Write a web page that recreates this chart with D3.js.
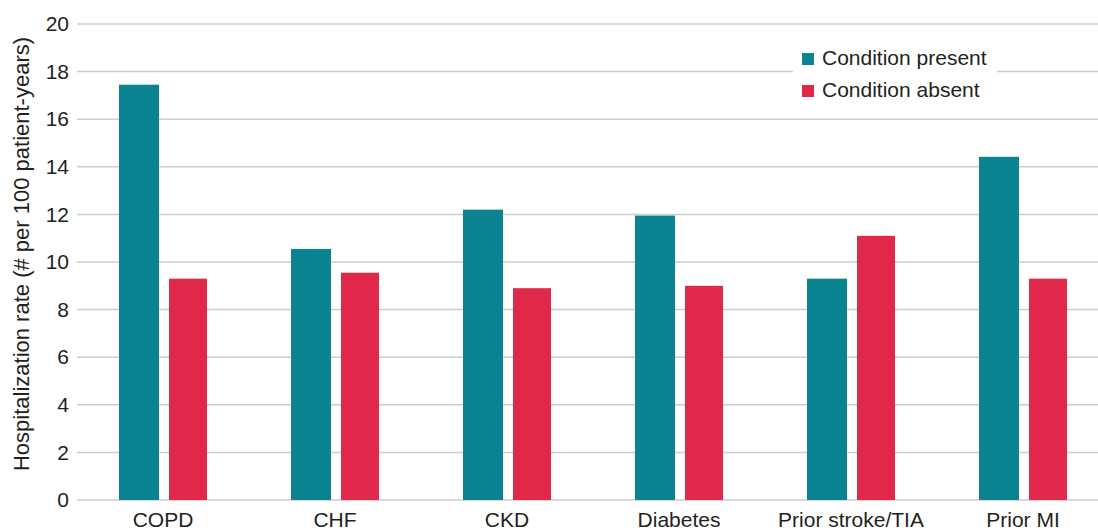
<!DOCTYPE html>
<html>

<head>
  <meta charset="utf-8">
  <title>Hospitalization rate</title>
  <script src="https://cdn.jsdelivr.net/npm/d3@7/dist/d3.min.js"></script>
</head>
<style type="text/css">
  body {
    margin: 0;
    background-color: #ffffff;
  }

  text {
    font-family: "Liberation Sans", Arial, sans-serif;
    fill: #231f20;
  }

  .grid line {
    stroke: #cccccc;
    stroke-width: 1.5;
  }
</style>

<body>
  <svg width="1098" height="530" id="mainsvg"></svg>
  <script>

    const categories = ["COPD", "CHF", "CKD", "Diabetes", "Prior stroke/TIA", "Prior MI"];
    const presentValues = [17.45, 10.55, 12.2, 11.95, 9.3, 14.42];
    const absentValues = [9.3, 9.55, 8.9, 9.0, 11.1, 9.3];
    const seriesNames = ["Condition present", "Condition absent"];
    const seriesColors = ["#0b8391", "#e0294a"];
    const yTicks = [0, 2, 4, 6, 8, 10, 12, 14, 16, 18, 20];

    const svg = d3.select('#mainsvg');
    const margin = { top: 24, bottom: 500, left: 77, right: 1109 };

    const xScale = d3.scaleBand()
      .domain(categories)
      .range([margin.left, margin.right])
      .padding(0);
    const yScale = d3.scaleLinear()
      .domain([0, 20])
      .range([margin.bottom, margin.top]);

    // gridlines
    svg.append('g')
      .attr('class', 'grid')
      .selectAll('line')
      .data(yTicks)
      .enter()
      .append('line')
      .attr('x1', margin.left)
      .attr('x2', 1098)
      .attr('y1', d => yScale(d))
      .attr('y2', d => yScale(d));

    // y axis labels
    const yAxis = d3.axisLeft(yScale).tickValues(yTicks).tickSize(0).tickPadding(8);
    const yAxisGroup = svg.append('g')
      .attr('transform', `translate(${margin.left}, 0)`)
      .call(yAxis);
    yAxisGroup.select('.domain').remove();
    yAxisGroup.selectAll('text')
      .style('font-size', '21px')
      .attr('fill', '#231f20');

    // x axis labels
    const xAxis = d3.axisBottom(xScale).tickSize(0).tickPadding(12);
    const xAxisGroup = svg.append('g')
      .attr('transform', `translate(0, ${margin.bottom})`)
      .call(xAxis);
    xAxisGroup.select('.domain').remove();
    xAxisGroup.selectAll('text')
      .style('font-size', '21px')
      .attr('fill', '#231f20');

    // bars
    const rows = categories.map((c, i) => ({ cat: c, present: presentValues[i], absent: absentValues[i] }));
    const bw = xScale.bandwidth();

    svg.append('g').selectAll('rect')
      .data(rows)
      .enter()
      .append('rect')
      .attr('x', d => xScale(d.cat) + bw / 2 - 44)
      .attr('width', 40)
      .attr('y', d => yScale(d.present))
      .attr('height', d => yScale(0) - yScale(d.present))
      .attr('fill', seriesColors[0]);

    svg.append('g').selectAll('rect')
      .data(rows)
      .enter()
      .append('rect')
      .attr('x', d => xScale(d.cat) + bw / 2 + 6)
      .attr('width', 38)
      .attr('y', d => yScale(d.absent))
      .attr('height', d => yScale(0) - yScale(d.absent))
      .attr('fill', seriesColors[1]);

    // axis title
    svg.append('text')
      .attr('transform', `translate(29, ${(margin.top + margin.bottom) / 2 - 8}) rotate(-90)`)
      .attr('text-anchor', 'middle')
      .style('font-size', '22px')
      .text('Hospitalization rate (# per 100 patient-years)');

    // legend
    const legend = svg.append('g').attr('transform', 'translate(793, 40)');
    legend.append('rect')
      .attr('width', 204)
      .attr('height', 66)
      .attr('fill', '#ffffff');
    seriesNames.forEach((name, i) => {
      legend.append('rect')
        .attr('x', 9)
        .attr('y', 13 + i * 32)
        .attr('width', 12)
        .attr('height', 12)
        .attr('fill', seriesColors[i]);
      legend.append('text')
        .attr('x', 29)
        .attr('y', 25 + i * 32)
        .style('font-size', '21px')
        .text(name);
    });
  </script>
</body>

</html>
